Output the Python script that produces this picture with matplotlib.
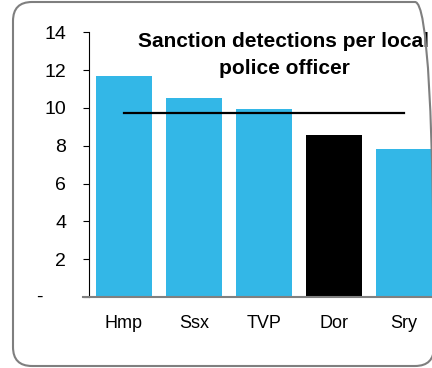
import matplotlib
matplotlib.use("Agg")
import matplotlib.pyplot as plt
from matplotlib.patches import FancyBboxPatch

plt.rcParams['font.family'] = ['Liberation Sans', 'DejaVu Sans']

categories = ["Hmp", "Ssx", "TVP", "Dor", "Sry"]
values = [11.7, 10.55, 9.95, 8.55, 7.85]
highlight = "Dor"
average = 9.75
yticks = [0, 2, 4, 6, 8, 10, 12, 14]
ytick_labels = ["", "2", "4", "6", "8", "10", "12", "14"]
zero_label = "-"
title = "Sanction detections per local\npolice officer"

W, H = 432, 368
fig = plt.figure(figsize=(W / 100, H / 100), dpi=100)

ax = fig.add_axes([89 / W, 1 - 297 / H, (439 - 89) / W, (297 - 32.3) / H])
x = list(range(len(categories)))
colors = ["#000000" if c == highlight else "#33B7E7" for c in categories]
ax.bar(x, values, width=0.8, color=colors, zorder=2)
ax.plot([x[0], x[-1]], [average, average], color="black", lw=1.6, zorder=3)

ax.set_xlim(-0.5, len(categories) - 0.5)
ax.set_ylim(0, 14)
ax.set_yticks(yticks)
ax.set_yticklabels(ytick_labels, fontsize=14)
ax.set_xticks(x)
ax.set_xticklabels(categories, fontsize=13)
ax.tick_params(axis="x", length=0, pad=13)
ax.tick_params(axis="y", direction="out", length=4.5, width=0.8, pad=12)
ax.annotate(zero_label, xy=(0, 0), xycoords=("axes fraction", "data"),
            xytext=(-36, 0), textcoords="offset points",
            ha="center", va="center", fontsize=14)
for s in ["top", "right"]:
    ax.spines[s].set_visible(False)
ax.spines["left"].set_linewidth(0.8)
ax.spines["bottom"].set_color("#808080")
ax.spines["bottom"].set_linewidth(1.5)
ax.spines["bottom"].set_zorder(4)
ax.spines["bottom"].set_bounds(-0.5 - 6 / 70, len(categories) - 0.5)

fig.text(284 / W, 1 - 55 / H, title, ha="center", va="center",
         fontsize=15, fontweight="bold", linespacing=1.5)

border = FancyBboxPatch((13, 2), 434 - 13, 366 - 2,
                        boxstyle="round,pad=0,rounding_size=19",
                        transform=None, facecolor="none",
                        edgecolor="#7f7f7f", lw=1.5, zorder=10)
fig.patches.append(border)

fig.savefig("out.png", dpi=100)
